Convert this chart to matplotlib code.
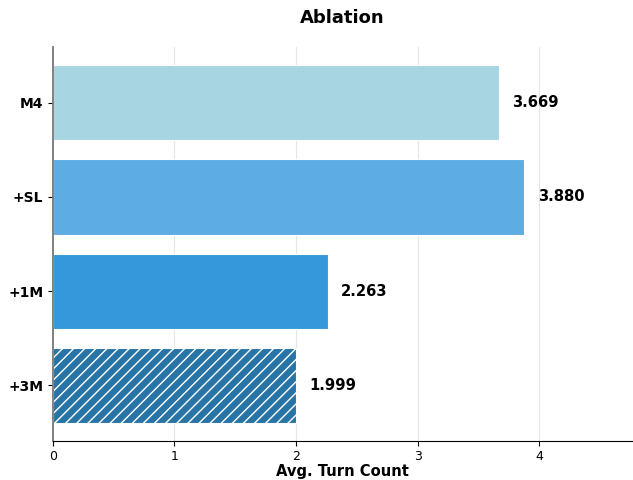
import matplotlib
matplotlib.use("Agg")
import matplotlib.pyplot as plt

# Ablation results: average turn count per configuration
categories = ["+3M", "+1M", "+SL", "M4"]
values = [1.999, 2.263, 3.880, 3.669]
colors = ["#2874A6", "#3498DB", "#5DADE2", "#A8D5E2"]
hatches = ["///", "", "", ""]

fig = plt.figure(figsize=(6.33, 4.8), dpi=100)
ax = fig.add_axes([0.0837, 0.081, 0.9147, 0.821])

bars = ax.barh(categories, values, height=0.8, color=colors, edgecolor="white", linewidth=0.8)
for bar, h in zip(bars, hatches):
    if h:
        bar.set_hatch(h)

for i, v in enumerate(values):
    ax.text(v + 0.11, i, f"{v:.3f}", va="center", ha="left",
            fontsize=10.6, fontweight="bold")

ax.set_xlim(0, 4.765)
ax.set_title("Ablation", fontsize=13, fontweight="bold", pad=17)
ax.set_xlabel("Avg. Turn Count", fontsize=10.6, fontweight="bold", labelpad=0.5)
ax.set_xticks([0, 1, 2, 3, 4])
ax.tick_params(axis="x", labelsize=9, pad=3)
ax.tick_params(axis="y", labelsize=10)
for lbl in ax.get_yticklabels():
    lbl.set_fontweight("bold")

ax.grid(axis="x", color="#e6e6e6", linewidth=0.8)
ax.set_axisbelow(True)
ax.spines["top"].set_visible(False)
ax.spines["right"].set_visible(False)
ax.spines["left"].set_color("#777777")
ax.spines["left"].set_linewidth(1.3)

fig.savefig("out.png", dpi=100)
